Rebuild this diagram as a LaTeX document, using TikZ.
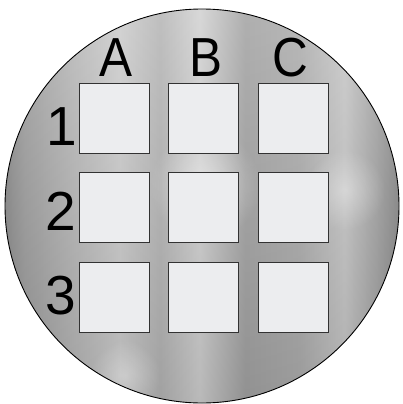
\documentclass[tikz,border=0pt]{standalone}
\usepackage{fontspec}
\setmainfont{Liberation Sans}
\usetikzlibrary{fadings}
\definecolor{w0}{gray}{0.55}
\definecolor{w1}{gray}{0.63}
\definecolor{w2}{gray}{0.72}
\definecolor{w3}{gray}{0.81}
\definecolor{w4}{gray}{0.72}
\definecolor{w5}{gray}{0.83}
\definecolor{w6}{gray}{0.65}
\definecolor{w7}{gray}{0.69}
\definecolor{w8}{gray}{0.79}
\definecolor{w9}{gray}{0.64}
\definecolor{cellfill}{RGB}{236,237,239}
\definecolor{cellline}{RGB}{50,50,50}
\pgfdeclarehorizontalshading{wafer}{100bp}{color(0bp)=(w0); color(25bp)=(w0); color(27.5bp)=(w1); color(33.2bp)=(w2); color(39.6bp)=(w3); color(44.7bp)=(w4); color(49.7bp)=(w5); color(55.5bp)=(w6); color(62.4bp)=(w7); color(68.1bp)=(w8); color(72.6bp)=(w9); color(75bp)=(w0); color(100bp)=(w0)}
\tikzfading[name=softspot, inner color=transparent!0, outer color=transparent!100]
\tikzset{
  cell/.style={draw=cellline, line width=1.5pt, fill=cellfill, minimum size=70pt, inner sep=0pt},
  collabel/.style={anchor=base, inner sep=0pt, font=\fontsize{55}{55}\selectfont, xscale=0.9},
  rowlabel/.style={anchor=base, inner sep=0pt, font=\fontsize{55}{55}\selectfont},
}
\begin{document}
\begin{tikzpicture}[x=1pt,y=-1pt]
\fill[white] (0,0) rectangle (403,404);
\useasboundingbox (0,0) rectangle (403,404);
\coordinate (ctr) at (202,206);
\shade[shading=wafer] (ctr) circle[radius=197pt];
\begin{scope}
\clip (ctr) circle[radius=197pt];
\shade[top color=white, bottom color=black, opacity=0.12] (0,0) rectangle (403,404);
\fill[white, path fading=softspot, opacity=0.45] (205,185) circle[radius=55pt];
\fill[white, path fading=softspot, opacity=0.35] (345,190) circle[radius=40pt];
\fill[white, path fading=softspot, opacity=0.3] (125,375) circle[radius=35pt];
\end{scope}
\draw[black, line width=0.9pt] (ctr) circle[radius=197pt];
\foreach \c/\x in {A/114.5,B/203.5,C/293.5}{
  \foreach \r/\y in {1/118.5,2/207.5,3/297.5}{
    \node[cell] (\c\r) at (\x,\y) {};
  }
}
\node[collabel] (lA) at (116.5,76) {A};
\node[collabel] (lB) at (206.5,76) {B};
\node[collabel] (lC) at (290,76) {C};
\node[rowlabel] (l1) at (62,145) {1};
\node[rowlabel] (l2) at (61,230) {2};
\node[rowlabel] (l3) at (61,314) {3};
\end{tikzpicture}
\end{document}
